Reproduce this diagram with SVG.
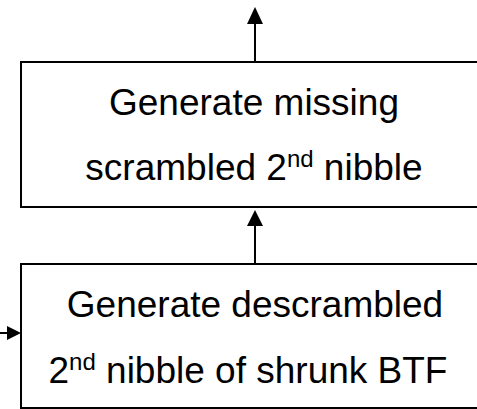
<svg xmlns="http://www.w3.org/2000/svg" width="477" height="409" viewBox="0 0 477 409">
  <style>
    .box { fill: #ffffff; stroke: #000000; stroke-width: 2; }
    .lbl { font-family: "Liberation Sans", Arial, sans-serif; font-size: 37px; fill: #000000; text-anchor: middle; }
    .sup { font-size: 24px; }
    .wire { stroke: #000000; stroke-width: 2; fill: none; }
    .head { fill: #000000; stroke: none; }
  </style>
  <rect width="477" height="409" fill="#ffffff"/>

  <g id="node-scrambled">
    <rect class="box" x="21" y="62" width="470" height="145"/>
    <text class="lbl" x="254" y="115">Generate missing</text>
    <text class="lbl" x="254" y="180">scrambled 2<tspan class="sup" dy="-13">nd</tspan><tspan dy="13"> nibble</tspan></text>
  </g>

  <g id="node-descrambled">
    <rect class="box" x="21" y="264" width="470" height="144"/>
    <text class="lbl" x="255" y="317">Generate descrambled</text>
    <text class="lbl" x="248" y="383">2<tspan class="sup" dy="-13">nd</tspan><tspan dy="13"> nibble of shrunk BTF</tspan></text>
  </g>

  <g id="connectors">
    <line class="wire" x1="255" y1="62" x2="255" y2="22"/>
    <polygon class="head" points="255,7 247,24 263,24"/>
    <line class="wire" x1="255" y1="264" x2="255" y2="224"/>
    <polygon class="head" points="255,210 247,226 263,226"/>
    <line class="wire" x1="0" y1="333" x2="9" y2="333"/>
    <polygon class="head" points="21,333 7,326 7,340"/>
  </g>
</svg>
